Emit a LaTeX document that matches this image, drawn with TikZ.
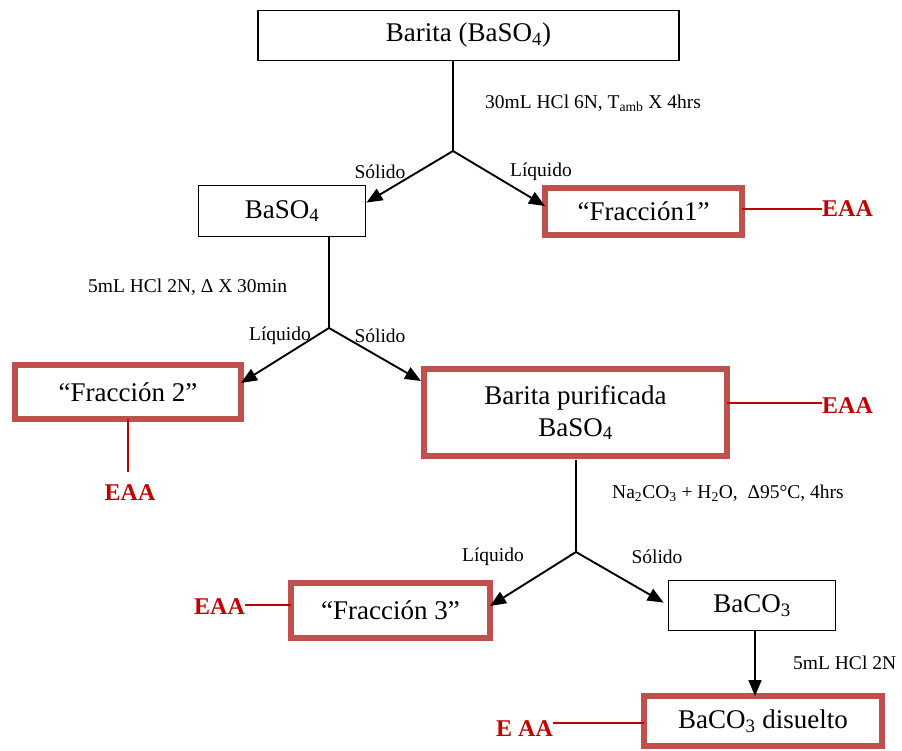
\documentclass[tikz,border=0pt]{standalone}
\usepackage{fontspec}
\setmainfont{Liberation Serif}
\usetikzlibrary{arrows.meta}
\definecolor{boxred}{RGB}{192,80,77}
\definecolor{eaared}{RGB}{192,0,0}
\begin{document}
\begin{tikzpicture}[x=1pt,y=-1pt,
  bigtxt/.style={font=\fontsize{27}{32}\selectfont},
  smalltxt/.style={font=\fontsize{19.5}{23}\selectfont, inner sep=0pt},
  blackbox/.style={draw=black, line width=1.8pt, bigtxt, inner sep=0pt, align=center},
  redbox/.style={draw=boxred, line width=6pt, bigtxt, inner sep=0pt, align=center, outer sep=0pt},
  flow/.style={draw=black, line width=1.9pt, -{Triangle[length=16pt,width=13pt]}},
  plainline/.style={draw=black, line width=1.9pt},
  eaaline/.style={draw=eaared, line width=1.4pt},
  eaatxt/.style={text=eaared, font=\fontsize{24}{27}\selectfont\bfseries, inner sep=0pt}
]
\useasboundingbox (0,0) rectangle (902,751);

% boxes
\node[blackbox, minimum width=421pt, minimum height=50pt] (barita) at (468.5,35.5) {Barita (BaSO\textsubscript{4})};
\node[blackbox, minimum width=167pt, minimum height=51pt] (baso4) at (282,211) {BaSO\textsubscript{4}};
\node[redbox, minimum width=197pt, minimum height=47pt] (f1) at (643.5,211.5) {“Fracción1”};
\node[redbox, minimum width=226pt, minimum height=54pt] (f2) at (128,392) {“Fracción 2”};
\node[redbox, minimum width=303pt, minimum height=87pt] (bp) at (575.5,412.5) {Barita purificada\\BaSO\textsubscript{4}};
\node[redbox, minimum width=199pt, minimum height=55pt] (f3) at (390.5,610.5) {“Fracción 3”};
\node[blackbox, minimum width=167pt, minimum height=50pt] (baco3) at (752,605.5) {BaCO\textsubscript{3}};
\node[redbox, minimum width=238pt, minimum height=50pt] (bd) at (763,721) {BaCO\textsubscript{3} disuelto};

% junctions
\coordinate (j1) at (453,151);
\coordinate (j2) at (329,328);
\coordinate (j3) at (576,552);
\coordinate (e2top) at (128,472);

% conditions
\node[smalltxt, anchor=west] (c1) at (485,103) {30mL HCl 6N, T\textsubscript{amb} X 4hrs};
\node[smalltxt, anchor=west] (c2) at (88,287) {5mL HCl 2N, Δ X 30min};
\node[smalltxt, anchor=west] (c3) at (612,493) {Na\textsubscript{2}CO\textsubscript{3} + H\textsubscript{2}O,\ \ Δ95°C, 4hrs};
\node[smalltxt, anchor=west] (c4) at (793,663) {5mL HCl 2N};

% branch labels
\node[smalltxt] (s1) at (380,172) {Sólido};
\node[smalltxt] (l1) at (541,172) {Líquido};
\node[smalltxt] (l2) at (280,336) {Líquido};
\node[smalltxt] (s2) at (380,336) {Sólido};
\node[smalltxt] (l3) at (493,557) {Líquido};
\node[smalltxt] (s3) at (657,557) {Sólido};

% connectors
\draw[plainline] (barita.south -| j1) -- (j1);
\draw[flow] (j1) -- ([yshift=-18pt]baso4.north east);
\draw[flow] (j1) -- ([yshift=-18pt]f1.north west);

\draw[plainline] (baso4.south -| j2) -- (j2);
\draw[flow] (j2) -- ([yshift=-18pt]f2.north east);
\draw[flow] (j2) -- ([xshift=-3pt,yshift=-12pt]bp.north west);

\draw[plainline] ([yshift=-4pt]bp.south -| j3) -- (j3);
\draw[flow] (j3) -- ([yshift=-23pt]f3.north east);
\draw[flow] (j3) -- ([xshift=-4pt,yshift=-23pt]baco3.north west);

\draw[flow] ([xshift=3pt]baco3.south) -- ([xshift=3pt]baco3.south |- bd.north);

% EAA
\node[eaatxt, anchor=west] (e1) at (822,209) {EAA};
\node[eaatxt] (e2) at (130,493) {EAA};
\node[eaatxt, anchor=west] (e3) at (822,406) {EAA};
\node[eaatxt, anchor=west] (e4) at (194,607) {EAA};
\node[eaatxt, anchor=west] (e5) at (496,729) {E AA};

\draw[eaaline] (e1.west -| f1.east) -- (e1.west);
\draw[eaaline] (f2.south) -- (e2top);
\draw[eaaline] ([yshift=3pt]e3.west -| bp.east) -- ([yshift=3pt]e3.west);
\draw[eaaline] ([yshift=2pt]e4.east) -- ([yshift=2pt]e4.east -| f3.west);
\draw[eaaline] ([yshift=6pt]e5.east) -- ([yshift=6pt]e5.east -| bd.west);
\end{tikzpicture}
\end{document}
